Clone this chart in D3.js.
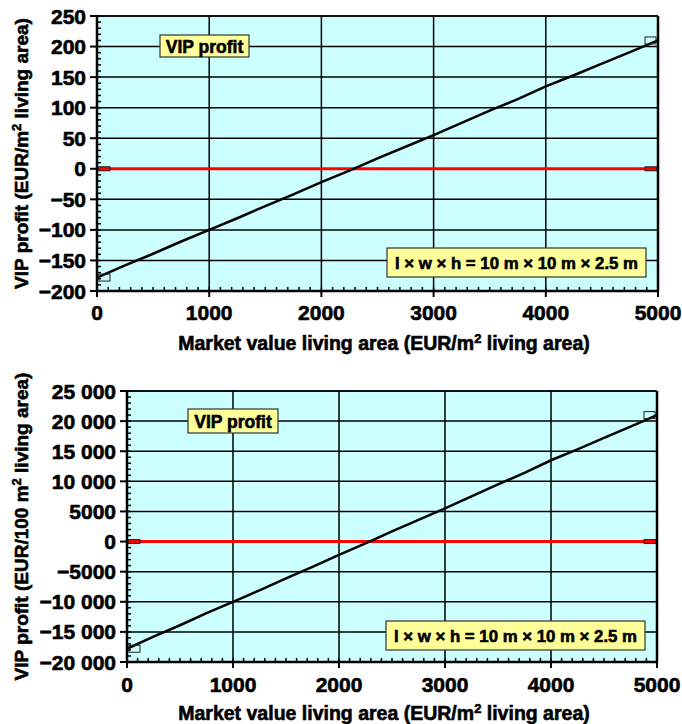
<!DOCTYPE html>
<html>
<head>
<meta charset="utf-8">
<script src="https://cdn.jsdelivr.net/npm/d3@7"></script>
<style>
  body { margin: 0; background: #fff; }
  text { font-family: "Liberation Sans", Arial, sans-serif; font-weight: bold; fill: #000; stroke: #000; stroke-width: 0.6px; }
</style>
</head>
<body>
<div id="chart"></div>
<script>
// market value (EUR/m2 living area)
const marketValue = [0, 250, 500, 750, 1000, 1250, 1500, 1750, 2000, 2250, 2500,
  2750, 3000, 3250, 3500, 3750, 4000, 4250, 4500, 4750, 5000];
// VIP profit per m2 living area (top panel)
const profitPerM2 = [-178, -158, -139, -119, -100, -81, -61, -42, -22, -3, 17,
  36, 55, 75, 95, 114, 135, 153, 172, 191, 210];
// VIP profit per 100 m2 living area (bottom panel)
const profitPer100 = [-17800, -15800, -13900, -11900, -10000, -8100, -6100, -4200, -2200, -300, 1700,
  3600, 5500, 7500, 9500, 11400, 13500, 15300, 17200, 19100, 21000];
const zeroLine = [0, 0];
const zeroX = [0, 5000];

const topYTicks = [-200, -150, -100, -50, 0, 50, 100, 150, 200, 250];
const botYTicks = [-20000, -15000, -10000, -5000, 0, 5000, 10000, 15000, 20000, 25000];
const xTicks = [0, 1000, 2000, 3000, 4000, 5000];

const W = 682, H = 724;
const svg = d3.select('#chart').append('svg').attr('width', W).attr('height', H);

const fmt = d => {
  const s = Math.abs(d) >= 10000 ? d3.format(',')(Math.abs(d)).replace(/,/g, ' ') : String(Math.abs(d));
  return (d < 0 ? '\u2212' : '') + s;
};

const drawPanel = (opt) => {
  const { left, top, right, bottom, yDomain, yTicks, yMinor, xMinor, series, yTitle, vipBox, dimBox, titleX, titleY, xLabelY } = opt;
  const x = d3.scaleLinear().domain([0, 5000]).range([left, right]);
  const y = d3.scaleLinear().domain(yDomain).range([bottom, top]);
  const g = svg.append('g');

  g.append('rect').attr('x', left).attr('y', top).attr('width', right - left).attr('height', bottom - top)
    .attr('fill', '#ccffff');

  // grid
  g.selectAll('.hg').data(yTicks.filter(d => d !== 0)).enter().append('line')
    .attr('x1', left).attr('x2', right).attr('y1', d => y(d)).attr('y2', d => y(d))
    .attr('stroke', '#000').attr('stroke-width', 1.5);
  g.selectAll('.vg').data(xTicks).enter().append('line')
    .attr('x1', d => x(d)).attr('x2', d => x(d)).attr('y1', top).attr('y2', bottom)
    .attr('stroke', '#000').attr('stroke-width', 1.5);

  // minor ticks, inside
  g.selectAll('.ym').data(d3.range(yDomain[0], yDomain[1] + 1e-9, yMinor)).enter().append('line')
    .attr('x1', left).attr('x2', left + 4).attr('y1', d => y(d)).attr('y2', d => y(d))
    .attr('stroke', '#000').attr('stroke-width', 1.5);
  g.selectAll('.xm').data(d3.range(0, 5001, xMinor)).enter().append('line')
    .attr('x1', d => x(d)).attr('x2', d => x(d)).attr('y1', bottom).attr('y2', bottom - 4)
    .attr('stroke', '#000').attr('stroke-width', 1.5);

  // zero line
  const line = d3.line().x(d => x(d[0])).y(d => y(d[1]));
  g.append('path').datum(zeroX.map((v, i) => [v, zeroLine[i]])).attr('d', line)
    .attr('stroke', '#ff0000').attr('stroke-width', 3).attr('fill', 'none');
  // profit line
  g.append('path').datum(marketValue.map((v, i) => [v, series[i]])).attr('d', line)
    .attr('stroke', '#000').attr('stroke-width', 2.5).attr('fill', 'none');

  // end markers
  const ends = [[0, series[0], 1], [5000, series[series.length - 1], -1]];
  g.selectAll('.mk').data(ends).enter().append('rect')
    .attr('x', d => d[2] > 0 ? x(d[0]) + 2 : x(d[0]) - 13).attr('y', d => y(d[1]) - 3.5)
    .attr('width', 11).attr('height', 7).attr('fill', 'none').attr('stroke', '#222').attr('stroke-width', 1);
  g.selectAll('.mz').data([[0, 1], [5000, -1]]).enter().append('rect')
    .attr('x', d => d[1] > 0 ? x(d[0]) + 1 : x(d[0]) - 13).attr('y', y(0) - 2)
    .attr('width', 12).attr('height', 4).attr('fill', '#ff0000').attr('stroke', '#222').attr('stroke-width', 1);

  // axes
  g.append('line').attr('x1', left).attr('x2', left).attr('y1', top).attr('y2', bottom)
    .attr('stroke', '#000').attr('stroke-width', 2.5);
  g.append('line').attr('x1', left).attr('x2', right).attr('y1', bottom).attr('y2', bottom)
    .attr('stroke', '#000').attr('stroke-width', 2.5);
  g.append('line').attr('x1', right).attr('x2', right).attr('y1', top).attr('y2', bottom)
    .attr('stroke', '#000').attr('stroke-width', 2.5);
  g.append('line').attr('x1', left).attr('x2', right).attr('y1', top).attr('y2', top)
    .attr('stroke', '#000').attr('stroke-width', 1.5);

  // major ticks + labels
  g.selectAll('.yt').data(yTicks).enter().append('line')
    .attr('x1', left - 7).attr('x2', left).attr('y1', d => y(d)).attr('y2', d => y(d))
    .attr('stroke', '#000').attr('stroke-width', 2);
  g.selectAll('.yl').data(yTicks).enter().append('text')
    .attr('x', left - 11).attr('y', d => y(d) + 7.5).attr('text-anchor', 'end')
    .attr('font-size', 21).text(fmt);
  g.selectAll('.xt').data(xTicks).enter().append('line')
    .attr('x1', d => x(d)).attr('x2', d => x(d)).attr('y1', bottom).attr('y2', bottom + 6)
    .attr('stroke', '#000').attr('stroke-width', 2);
  g.selectAll('.xl').data(xTicks).enter().append('text')
    .attr('x', d => x(d)).attr('y', xLabelY).attr('text-anchor', 'middle')
    .attr('font-size', 21).text(d => String(d));

  // axis titles
  const xt = g.append('text').attr('x', titleX).attr('y', titleY)
    .attr('text-anchor', 'middle').attr('font-size', 19.5);
  xt.append('tspan').text('Market value living area (EUR/m');
  xt.append('tspan').attr('dy', -7).attr('font-size', 13).text('2');
  xt.append('tspan').attr('dy', 7).text(' living area)');

  const yt = g.append('text').attr('transform', `translate(28,${(top + bottom) / 2}) rotate(-90)`)
    .attr('text-anchor', 'middle').attr('font-size', 19);
  yt.append('tspan').text(yTitle[0]);
  yt.append('tspan').attr('dy', -7).attr('font-size', 13).text('2');
  yt.append('tspan').attr('dy', 7).text(yTitle[1]);

  // labels
  const box = (b, txt, size) => {
    g.append('rect').attr('x', b[0]).attr('y', b[1]).attr('width', b[2]).attr('height', b[3])
      .attr('fill', '#ffff99').attr('stroke', '#333').attr('stroke-width', 1.2);
    g.append('text').attr('x', b[0] + b[2] / 2).attr('y', b[1] + b[3] / 2 + 6.5)
      .attr('text-anchor', 'middle').attr('font-size', size).text(txt);
  };
  box(vipBox, 'VIP profit', 17.5);
  box(dimBox, 'l \u00d7 w \u00d7 h = 10 m \u00d7 10 m \u00d7 2.5 m', 16.8);
};

drawPanel({
  left: 97, top: 16, right: 658, bottom: 291,
  yDomain: [-200, 250], yTicks: topYTicks, yMinor: 10, xMinor: 100,
  series: profitPerM2,
  yTitle: ['VIP profit (EUR/m', ' living area)'],
  vipBox: [160, 35, 89, 22], dimBox: [387, 248, 259, 29],
  xLabelY: 320, titleX: 384, titleY: 350
});
drawPanel({
  left: 127, top: 391, right: 657, bottom: 662,
  yDomain: [-20000, 25000], yTicks: botYTicks, yMinor: 1000, xMinor: 100,
  series: profitPer100,
  yTitle: ['VIP profit (EUR/100 m', ' living area)'],
  vipBox: [188, 409, 90, 24], dimBox: [386, 621, 259, 29],
  xLabelY: 692, titleX: 384, titleY: 720
});
</script>
</body>
</html>
